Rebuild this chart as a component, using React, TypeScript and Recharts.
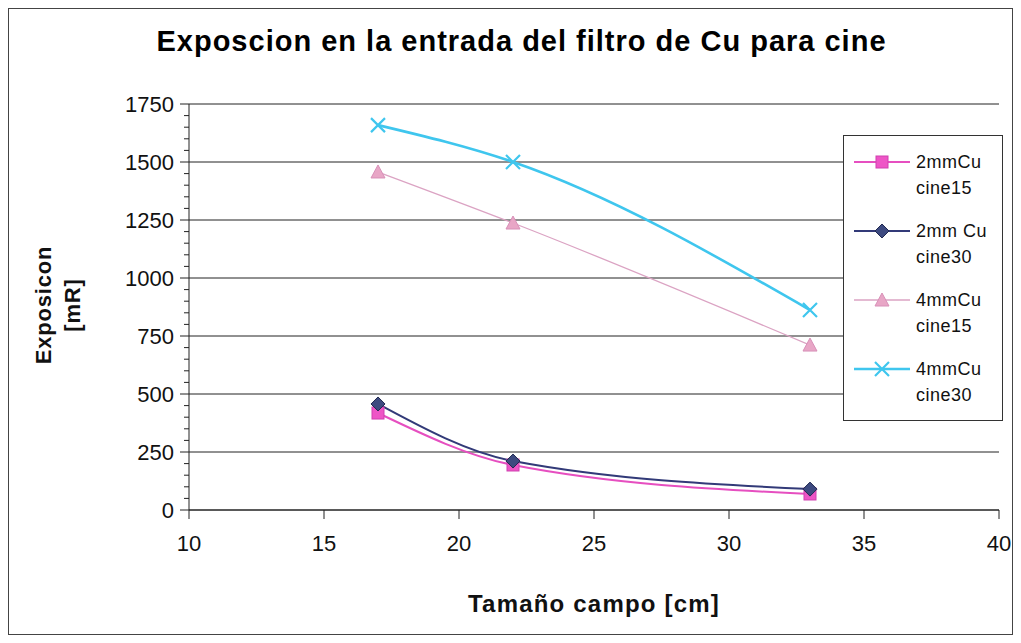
import { LineChart, Line, XAxis, YAxis, CartesianGrid } from "recharts";

const sizes = [17, 22, 33];
const cu2Cine15 = [418, 194, 69];
const cu2Cine30 = [457, 211, 90];
const cu4Cine15 = [1457, 1237, 711];
const cu4Cine30 = [1659, 1500, 862];

const xTicks = [10, 15, 20, 25, 30, 35, 40];
const xMinor = [10, 11, 12, 13, 14, 15, 16, 17, 18, 19, 20, 21, 22, 23, 24, 25, 26, 27, 28, 29, 30, 31, 32, 33, 34, 35, 36, 37, 38, 39, 40];
const yTicks = [0, 250, 500, 750, 1000, 1250, 1500, 1750];
const yMinor = [
  0, 50, 100, 150, 200, 250, 300, 350, 400, 450, 500, 550, 600, 650, 700, 750, 800, 850, 900, 950, 1000,
  1050, 1100, 1150, 1200, 1250, 1300, 1350, 1400, 1450, 1500, 1550, 1600, 1650, 1700, 1750,
];

const seriesInfo = [
  { key: "a", label: ["2mmCu", "cine15"], color: "#e64fc0", marker: "square", width: 2 },
  { key: "b", label: ["2mm Cu", "cine30"], color: "#323a78", marker: "diamond", width: 2 },
  { key: "c", label: ["4mmCu", "cine15"], color: "#dba3c3", marker: "triangle", width: 1.3 },
  { key: "d", label: ["4mmCu", "cine30"], color: "#3fc6ee", marker: "cross", width: 2.6 },
];

const data = sizes.map((s, i) => ({
  x: s,
  a: cu2Cine15[i],
  b: cu2Cine30[i],
  c: cu4Cine15[i],
  d: cu4Cine30[i],
}));

const FONT = "'Liberation Sans', Arial, sans-serif";

function Marker({ kind, cx, cy, color }: { kind: string; cx: number; cy: number; color: string }) {
  if (kind === "square") return <rect x={cx - 6} y={cy - 6} width={12} height={12} fill="#ee55c6" stroke="#d040b0" />;
  if (kind === "diamond")
    return <path d={`M${cx},${cy - 7}L${cx + 7},${cy}L${cx},${cy + 7}L${cx - 7},${cy}Z`} fill="#3d4a80" stroke="#202850" />;
  if (kind === "triangle")
    return <path d={`M${cx},${cy - 7}L${cx + 7},${cy + 6}L${cx - 7},${cy + 6}Z`} fill="#e8a6c6" stroke="#d890b8" />;
  return (
    <path d={`M${cx - 7},${cy - 7}L${cx + 7},${cy + 7}M${cx + 7},${cy - 7}L${cx - 7},${cy + 7}`} stroke={color} strokeWidth={2.2} fill="none" />
  );
}

// y tick: every 50 a short mark, every 250 a long mark plus the label
function YTick(props: any) {
  const { x, y, payload } = props;
  const major = yTicks.includes(payload.value);
  const axisX = x + 11;
  return (
    <g>
      <line x1={axisX - (major ? 9 : 5)} x2={axisX} y1={y} y2={y} stroke="#222" />
      {major && (
        <text x={x - 4} y={y} dy="0.355em" textAnchor="end" fill="#111" style={{ fontSize: 22, fontFamily: FONT }}>
          {payload.value}
        </text>
      )}
    </g>
  );
}

function LegendBox() {
  return (
    <div
      style={{
        position: "absolute",
        left: 834,
        top: 126,
        width: 160,
        height: 286,
        border: "1px solid #333",
        background: "#fff",
        fontFamily: FONT,
        fontSize: 18,
        color: "#111",
        boxSizing: "border-box",
        paddingTop: 12,
      }}
    >
      {seriesInfo.map((s) => (
        <div key={s.key} style={{ display: "flex", height: 69 }}>
          <svg width={72} height={30} style={{ flex: "none" }}>
            <line x1={10} x2={66} y1={14} y2={14} stroke={s.color} strokeWidth={s.width} />
            <Marker kind={s.marker} cx={38} cy={14} color={s.color} />
          </svg>
          <div style={{ lineHeight: "26px", marginTop: 1, letterSpacing: 0.5 }}>
            {s.label[0]}
            <br />
            {s.label[1]}
          </div>
        </div>
      ))}
    </div>
  );
}

export default function App() {
  return (
    <div style={{ width: 1003, height: 625, border: "1px solid #444", position: "relative", background: "#fff" }}>
      <div
        style={{
          position: "absolute",
          top: 16,
          left: 0,
          width: "100%",
          textAlign: "center",
          fontFamily: FONT,
          fontWeight: "bold",
          fontSize: 29,
          letterSpacing: 1,
          paddingLeft: 22,
          boxSizing: "border-box",
        }}
      >
        Exposcion en la entrada del filtro de Cu para cine
      </div>
      <LineChart width={1003} height={625} data={data} margin={{ top: 95, right: 13, bottom: 20, left: 90 }}>
        <CartesianGrid horizontal vertical={false} stroke="#222" strokeWidth={1} horizontalValues={yTicks} />
        <XAxis
          xAxisId="minor"
          dataKey="x"
          type="number"
          domain={[10, 40]}
          ticks={xMinor}
          tick={() => <g />}
          tickSize={6}
          stroke="#222"
          height={0}
        />
        <XAxis
          dataKey="x"
          type="number"
          domain={[10, 40]}
          ticks={xTicks}
          tickSize={9}
          stroke="#222"
          tick={{ fill: "#111", fontSize: 22, fontFamily: FONT, dy: 14 }}
          height={104}
          label={{
            value: "Tamaño campo [cm]",
            position: "insideBottom",
            offset: 2,
            style: { fontFamily: FONT, fontWeight: "bold", fontSize: 24, letterSpacing: 1.2, fill: "#111" },
          }}
        />
        <YAxis
          domain={[0, 1750]}
          ticks={yMinor}
          interval={0}
          tickSize={9}
          tickMargin={2}
          tickLine={false}
          stroke="#222"
          width={90}
          tick={<YTick />}
          label={{
            content: () => (
              <text
                transform="translate(48,296) rotate(-90)"
                textAnchor="middle"
                style={{ fontFamily: FONT, fontWeight: "bold", fontSize: 22, letterSpacing: 0.8, fill: "#111" }}
              >
                <tspan x={0} dy={-6}>Exposicon</tspan>
                <tspan x={0} dy={29}>[mR]</tspan>
              </text>
            ),
          }}
        />
        {seriesInfo.map((s) => (
          <Line
            key={s.key}
            dataKey={s.key}
            type="monotone"
            stroke={s.color}
            strokeWidth={s.width}
            isAnimationActive={false}
            dot={(p: any) => <Marker key={`${s.key}-${p.index}`} kind={s.marker} cx={p.cx} cy={p.cy} color={s.color} />}
            activeDot={false}
          />
        ))}
      </LineChart>
      <LegendBox />
    </div>
  );
}
